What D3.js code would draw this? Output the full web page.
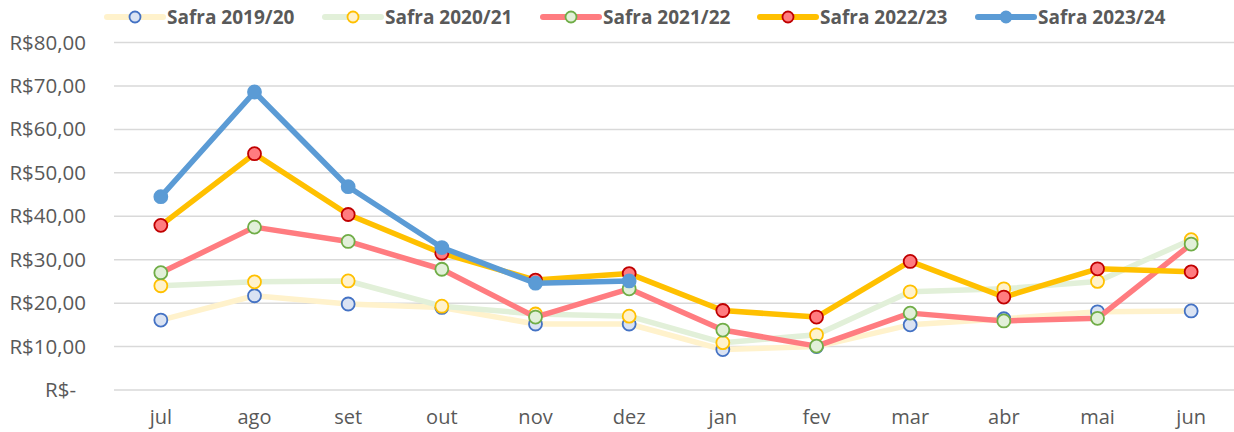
<!DOCTYPE html>
<html>
<head>
<meta charset="utf-8">
<script src="https://cdn.jsdelivr.net/npm/d3@7"></script>
<style>
  body { margin: 0; background: #ffffff; }
  svg text { font-family: "Open Sans", "Liberation Sans", sans-serif; fill: #595959; }
</style>
</head>
<body>
<svg id="chart"></svg>
<script>
// Months of the harvest year (jul -> jun)
const months = ["jul", "ago", "set", "out", "nov", "dez", "jan", "fev", "mar", "abr", "mai", "jun"];

// Monthly prices per harvest (R$)
const safra_2019_20 = [16.1, 21.7, 19.8, 19.0, 15.2, 15.2, 9.3, 10.0, 15.0, 16.4, 18.0, 18.2];
const safra_2020_21 = [24.0, 24.9, 25.1, 19.3, 17.5, 17.0, 10.9, 12.7, 22.6, 23.3, 25.0, 34.6];
const safra_2021_22 = [27.0, 37.5, 34.2, 27.8, 16.8, 23.3, 13.8, 10.1, 17.7, 15.9, 16.5, 33.6];
const safra_2022_23 = [37.9, 54.4, 40.4, 31.5, 25.3, 26.8, 18.3, 16.8, 29.6, 21.4, 27.9, 27.2];
const safra_2023_24 = [44.5, 68.6, 46.8, 32.8, 24.6, 25.1, null, null, null, null, null, null];

const series_names = ["Safra 2019/20", "Safra 2020/21", "Safra 2021/22", "Safra 2022/23", "Safra 2023/24"];
const y_ticks = [0, 10, 20, 30, 40, 50, 60, 70, 80];

// Styles for each series: line colour, marker fill and marker outline
const series_styles = [
    { line: "#FFF2CC", fill: "#DAE3F3", stroke: "#4472C4" },
    { line: "#E2F0D9", fill: "#FFF2CC", stroke: "#FFC000" },
    { line: "#FF7C80", fill: "#E2F0D9", stroke: "#70AD47" },
    { line: "#FFC000", fill: "#FF7C80", stroke: "#C00000" },
    { line: "#5B9BD5", fill: "#5B9BD5", stroke: "#5B9BD5" }
];
const series_data = [safra_2019_20, safra_2020_21, safra_2021_22, safra_2022_23, safra_2023_24];

// Chart dimensions
const width = 1234, height = 432;
const margins = { top: 42.5, right: -4, bottom: 42, left: 114 };

const svg = d3.select("#chart")
    .attr("width", width)
    .attr("height", height);

// Scales
const x_scale = d3.scaleBand()
    .domain(months)
    .range([margins.left, width - margins.right]);
const y_scale = d3.scaleLinear()
    .domain([0, 80])
    .range([height - margins.bottom, margins.top]);

// Horizontal gridlines
svg.append("g")
    .selectAll("line")
    .data(y_ticks)
    .enter()
    .append("line")
    .attr("x1", margins.left)
    .attr("x2", width - margins.right)
    .attr("y1", d => y_scale(d))
    .attr("y2", d => y_scale(d))
    .attr("stroke", "#D9D9D9")
    .attr("stroke-width", 1.5);

// Y-axis labels (accounting style)
const y_axis = svg.append("g")
    .attr("transform", `translate(${margins.left - 28},0)`)
    .call(d3.axisLeft(y_scale)
        .tickValues(y_ticks)
        .tickSize(0)
        .tickPadding(0)
        .tickFormat(d => d === 0 ? "R$-" : "R$" + d + ",00"));
y_axis.select(".domain").remove();
y_axis.selectAll("text")
    .attr("font-size", 20.5)
    .attr("dx", d => d === 0 ? -10 : 0);

// X-axis labels
const x_axis = svg.append("g")
    .attr("transform", `translate(0,${height - margins.bottom})`)
    .call(d3.axisBottom(x_scale).tickSize(0).tickPadding(20));
x_axis.select(".domain").remove();
x_axis.selectAll("text").attr("font-size", 20);

// Line generator
const line = d3.line()
    .defined(d => d !== null)
    .x((d, i) => x_scale(months[i]) + x_scale.bandwidth() / 2)
    .y(d => y_scale(d));

// Draw every series: line first, then its markers
series_data.forEach((values, s) => {
    const style = series_styles[s];
    const g = svg.append("g");
    g.append("path")
        .datum(values)
        .attr("d", line)
        .attr("fill", "none")
        .attr("stroke", style.line)
        .attr("stroke-width", 5.5)
        .attr("stroke-linejoin", "round");
    g.selectAll("circle")
        .data(values.map((v, i) => ({ v, i })).filter(d => d.v !== null))
        .enter()
        .append("circle")
        .attr("cx", d => x_scale(months[d.i]) + x_scale.bandwidth() / 2)
        .attr("cy", d => y_scale(d.v))
        .attr("r", 6.5)
        .attr("fill", style.fill)
        .attr("stroke", style.stroke)
        .attr("stroke-width", 1.8);
});

// Legend
const legend_x = [107, 325, 543, 760, 978];
const legend = svg.append("g");
series_names.forEach((name, s) => {
    const style = series_styles[s];
    const item = legend.append("g").attr("transform", `translate(${legend_x[s]},17)`);
    item.append("line")
        .attr("x1", 0).attr("x2", 56)
        .attr("stroke", style.line)
        .attr("stroke-width", 6)
        .attr("stroke-linecap", "round");
    item.append("circle")
        .attr("cx", 28)
        .attr("r", 5.5)
        .attr("fill", style.fill)
        .attr("stroke", style.stroke)
        .attr("stroke-width", 1.8);
    item.append("text")
        .attr("x", 60)
        .attr("dy", "0.36em")
        .attr("font-size", 19)
        .attr("font-weight", "bold")
        .text(name);
});
</script>
</body>
</html>
